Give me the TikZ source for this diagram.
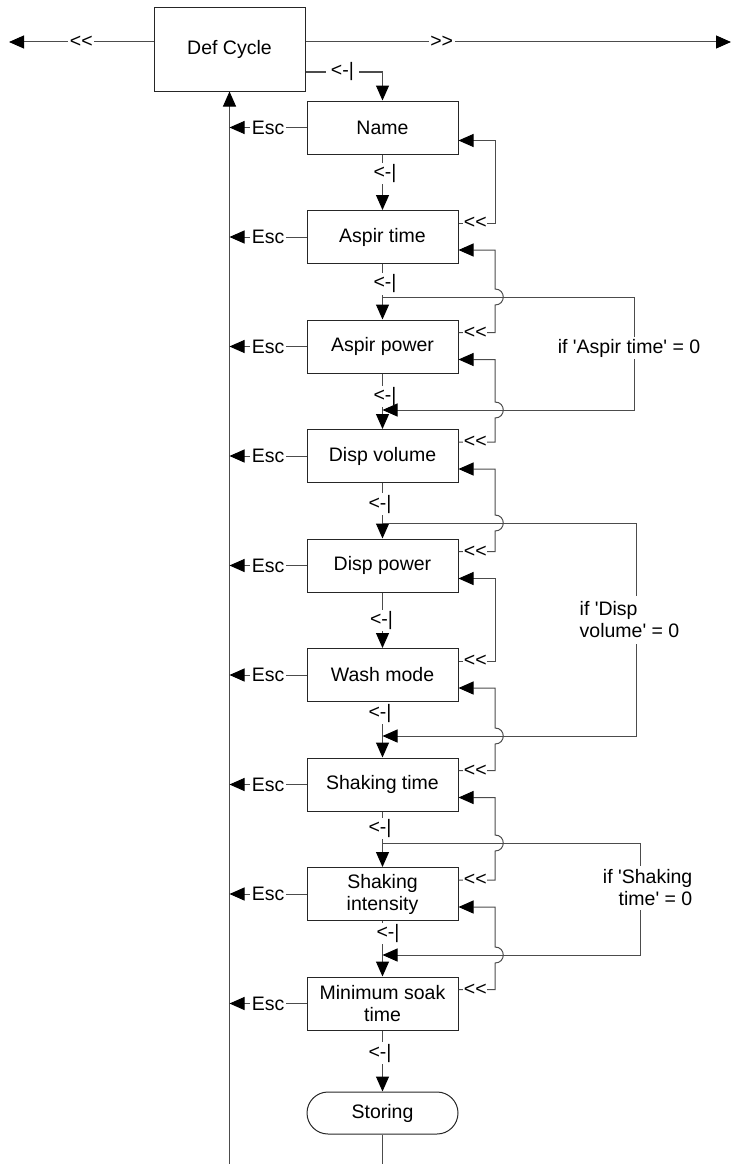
\documentclass[tikz,border=0pt]{standalone}
\usepackage{fontspec}
\setmainfont{Liberation Sans}[Ligatures=TeXOff]
\usetikzlibrary{arrows.meta,shapes.misc}
\newcommand\diafont{\fontsize{19.5}{22}\selectfont}
\tikzset{
  box/.style={draw=black!85, line width=1pt, minimum width=151pt, minimum height=53pt, inner sep=0pt, align=center, font=\diafont},
  lbl/.style={fill=white, inner sep=1.5pt, font=\diafont},
  ln/.style={draw=black!70, line width=1pt},
  arr/.style={ln, -{Triangle[length=15pt,width=13pt,color=black]}},
}
\begin{document}
\begin{tikzpicture}[x=1pt,y=-1pt]
\useasboundingbox (0,0) rectangle (732,1164);
% boxes
\node[box, minimum height=83pt] (def) at (229.5,49.5) {Def Cycle};
\node[box] (b0) at (382.5,127.5) {Name};
\node[box] (b1) at (382.5,237) {Aspir time};
\node[box] (b2) at (382.5,346.5) {Aspir power};
\node[box] (b3) at (382.5,456) {Disp volume};
\node[box] (b4) at (382.5,565.5) {Disp power};
\node[box] (b5) at (382.5,675) {Wash mode};
\node[box] (b6) at (382.5,784.5) {Shaking time};
\node[box] (b7) at (382.5,894) {Shaking\\intensity};
\node[box] (b8) at (382.5,1003.5) {Minimum soak\\time};
\node[box, rounded rectangle, minimum height=42pt] (st) at (382.5,1113) {Storing};
% coordinates
\coordinate (lt) at (9,42);
\coordinate (rt) at (731,42);
\coordinate (tc) at (382.5,72);
\coordinate (lv) at (229.5,1164);
\coordinate (mv) at (382.5,1164);
\coordinate (l1a) at (382.5,297); \coordinate (l1b) at (382.5,410);
\coordinate (l2a) at (382.5,523); \coordinate (l2b) at (382.5,736);
\coordinate (l3a) at (382.5,843); \coordinate (l3b) at (382.5,955);
% top arrows
\draw[arr] (def.west |- lt) -- node[lbl]{<<} (lt);
\draw[arr] (def.east |- rt) -- node[lbl,pos=0.32]{>>} (rt);
\draw[arr] (tc -| def.east) -- node[lbl,pos=0.48,inner xsep=5pt]{<-|} (tc) -- (b0.north);
% left return line
\draw[arr] (lv) -- (def.south);
\foreach \i in {0,...,8} {
  \draw[arr] (b\i.west) -- node[lbl]{Esc} (b\i.west -| lv);
}
% main flow
\draw[arr] (b0.south) -- node[lbl,pos=0.34,xshift=2.5pt]{<-|} (b1.north);
\draw[arr] (b1.south) -- node[lbl,pos=0.36,xshift=2.5pt]{<-|} (b2.north);
\draw[arr] (b2.south) -- node[lbl,pos=0.42,xshift=2.5pt]{<-|} (b3.north);
\draw[arr] (b3.south) -- node[lbl,pos=0.38,xshift=-2.5pt]{<-|} (b4.north);
\draw[arr] (b4.south) -- node[lbl,pos=0.5,xshift=-1pt]{<-|} (b5.north);
\draw[arr] (b5.south) -- node[lbl,pos=0.2,xshift=-2.5pt]{<-|} (b6.north);
\draw[arr] (b6.south) -- node[lbl,pos=0.3,xshift=-2.5pt]{<-|} (b7.north);
\draw[arr] (b7.south) -- node[lbl,pos=0.22,xshift=5.5pt]{<-|} (b8.north);
\draw[arr] (b8.south) -- node[lbl,pos=0.37,xshift=-2.5pt]{<-|} (st.north);
\draw[ln] (st.south) -- (mv);
% back links
\draw[arr] ([yshift=14pt]b1.east) -- node[lbl,pos=0.46,inner sep=0.5pt]{<<} (495,223) -- (495,140.5) -- ([yshift=-13pt]b0.east);
\draw[arr] ([yshift=14pt]b2.east) -- node[lbl,pos=0.46,inner sep=0.5pt]{<<} (495,332.5) -- (495,305) .. controls (506,305) and (506,289) .. (495,289) -- (495,250) -- ([yshift=-13pt]b1.east);
\draw[arr] ([yshift=14pt]b3.east) -- node[lbl,pos=0.46,inner sep=0.5pt]{<<} (495,442) -- (495,418) .. controls (506,418) and (506,402) .. (495,402) -- (495,359.5) -- ([yshift=-13pt]b2.east);
\draw[arr] ([yshift=14pt]b4.east) -- node[lbl,pos=0.46,inner sep=0.5pt]{<<} (495,551.5) -- (495,531) .. controls (506,531) and (506,515) .. (495,515) -- (495,469) -- ([yshift=-13pt]b3.east);
\draw[arr] ([yshift=14pt]b5.east) -- node[lbl,pos=0.46,inner sep=0.5pt]{<<} (495,661) -- (495,578.5) -- ([yshift=-13pt]b4.east);
\draw[arr] ([yshift=14pt]b6.east) -- node[lbl,pos=0.46,inner sep=0.5pt]{<<} (495,770.5) -- (495,744) .. controls (506,744) and (506,728) .. (495,728) -- (495,688) -- ([yshift=-13pt]b5.east);
\draw[arr] ([yshift=14pt]b7.east) -- node[lbl,pos=0.46,inner sep=0.5pt]{<<} (495,880) -- (495,851) .. controls (506,851) and (506,835) .. (495,835) -- (495,797.5) -- ([yshift=-13pt]b6.east);
\draw[arr] ([yshift=14pt]b8.east) -- node[lbl,pos=0.46,inner sep=0.5pt]{<<} (495,989.5) -- (495,963) .. controls (506,963) and (506,947) .. (495,947) -- (495,907) -- ([yshift=-13pt]b7.east);
% skip loops
\draw[arr] (l1a) -- (634,297) -- (634,410) -- (l1b);
\node[lbl] (c1) at (629,348) {if 'Aspir time' = 0};
\draw[arr] (l2a) -- (636,523) -- (636,736) -- (l2b);
\node[lbl, align=left, anchor=west, inner ysep=6pt] (c2) at (578,620) {if 'Disp\\volume' = 0};
\draw[arr] (l3a) -- (640,843) -- (640,955) -- (l3b);
\node[lbl, align=right, anchor=east, inner ysep=4pt] (c3) at (694,888) {if 'Shaking\\time' = 0};
\end{tikzpicture}
\end{document}
